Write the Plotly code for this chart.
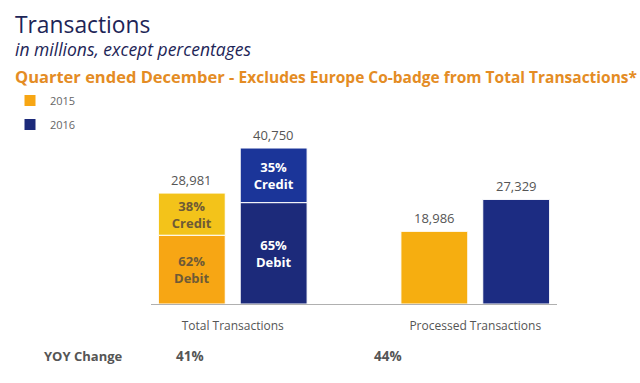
import plotly.graph_objects as go

# ---- data ----
categories = ["Total Transactions", "Processed Transactions"]
years = ["2015", "2016"]
totals_2015 = [28981, 18986]
totals_2016 = [40750, 27329]
credit_share = {"2015": 38, "2016": 35}   # % credit of Total Transactions
debit_share = {"2015": 62, "2016": 65}    # % debit of Total Transactions
yoy_change = ["41%", "44%"]

FONT = "Open Sans"
GRAY = "#555555"

# paper-coordinate helpers (plot area: x 150..557 px, y 100..304 px)
L, R, T, B = 150, 83, 100, 79
W, H = 640, 383
PW, PH = W - L - R, H - T - B
def px(x):
    return (x - L) / PW
def py(y):
    return (H - B - y) / PH

fig = go.Figure()

styles = {
    "2015": dict(low=["#F7A614", "#F6AE10"], up="#F3C31A", txt="#6E5A36"),
    "2016": dict(low=["#1C2A7A", "#1C2C82"], up="#1B3599", txt="#FFFFFF"),
}
series = {"2015": totals_2015, "2016": totals_2016}

for yr in years:
    tot = series[yr]
    debit = tot[0] * debit_share[yr] / 100
    credit = tot[0] * credit_share[yr] / 100
    st = styles[yr]
    # lower segment (debit of total) + full processed bar
    fig.add_trace(go.Bar(
        x=categories, y=[debit, tot[1]], name=yr, legendgroup=yr,
        offsetgroup=yr, showlegend=True,
        marker=dict(color=st["low"], line=dict(color="white", width=1)),
        text=[f"{debit_share[yr]}%<br>Debit", ""],
        textposition="inside", insidetextanchor="middle",
        textfont=dict(family=FONT, size=13, color=st["txt"], weight="bold"),
        hoverinfo="skip",
    ))
    # upper segment (credit of total)
    fig.add_trace(go.Bar(
        x=[categories[0]], y=[credit], base=[debit], name=yr, legendgroup=yr,
        offsetgroup=yr, showlegend=False,
        marker=dict(color=st["up"], line=dict(color="white", width=1)),
        text=[f"{credit_share[yr]}%<br>Credit"],
        textposition="inside", insidetextanchor="middle",
        textfont=dict(family=FONT, size=13, color=st["txt"], weight="bold"),
        hoverinfo="skip",
    ))

annotations = []
# value labels above bars
for yr, shift in (("2015", -41), ("2016", 41)):
    for cat, v in zip(categories, series[yr]):
        annotations.append(dict(
            x=cat, y=v, xref="x", yref="y", xshift=shift, yshift=2,
            yanchor="bottom", showarrow=False, text=f"{v:,}",
            font=dict(family=FONT, size=13, color=GRAY)))

# titles
annotations += [
    dict(x=px(12), y=py(24), xref="paper", yref="paper", xanchor="left",
         yanchor="middle", showarrow=False, text="Transactions",
         font=dict(family=FONT, size=22.8, color="#1D2557")),
    dict(x=px(12), y=py(49), xref="paper", yref="paper", xanchor="left",
         yanchor="middle", showarrow=False,
         text="<i>in millions, except percentages</i>",
         font=dict(family=FONT, size=17.5, color="#1D2557")),
    dict(x=px(12), y=py(76), xref="paper", yref="paper", xanchor="left",
         yanchor="middle", showarrow=False,
         text="<b>Quarter ended December - </b><span style='font-size:15.5px'><b>Excludes Europe Co-badge from Total Transactions*</b></span>",
         font=dict(family=FONT, size=16.5, color="#E48C24")),
]

# YOY row
annotations.append(dict(x=px(41), y=py(356), xref="paper", yref="paper",
                        xanchor="left", yanchor="middle", showarrow=False,
                        text="<b>YOY Change</b>",
                        font=dict(family=FONT, size=13, color=GRAY)))
for cx, val in zip((189, 388), yoy_change):
    annotations.append(dict(x=px(cx), y=py(356), xref="paper", yref="paper",
                            xanchor="center", yanchor="middle", showarrow=False,
                            text=f"<b>{val}</b>",
                            font=dict(family=FONT, size=13.5, color=GRAY)))

fig.update_layout(
    width=W, height=H,
    margin=dict(l=L, r=R, t=T, b=B, pad=0),
    paper_bgcolor="white", plot_bgcolor="white",
    barmode="group", bargap=0.325, bargroupgap=0.183,
    uniformtext=dict(minsize=13, mode="show"),
    font=dict(family=FONT, color=GRAY),
    showlegend=True,
    legend=dict(x=px(10), y=py(86), xanchor="left", yanchor="top",
                font=dict(family=FONT, size=11, color="#666666"),
                tracegroupgap=5, bgcolor="rgba(0,0,0,0)"),
    annotations=annotations,
    xaxis=dict(type="category", range=[-0.337, 1.337], showgrid=False,
               showline=True, linecolor="#B0B0B0", linewidth=1,
               ticks="", ticklabelstandoff=11,
               tickfont=dict(family=FONT, size=12, color=GRAY),
               fixedrange=True),
    yaxis=dict(range=[0, 53300], visible=False, fixedrange=True),
)

fig.write_html("out.html", config={"displayModeBar": False},
               post_script="document.body.style.margin='0';")
